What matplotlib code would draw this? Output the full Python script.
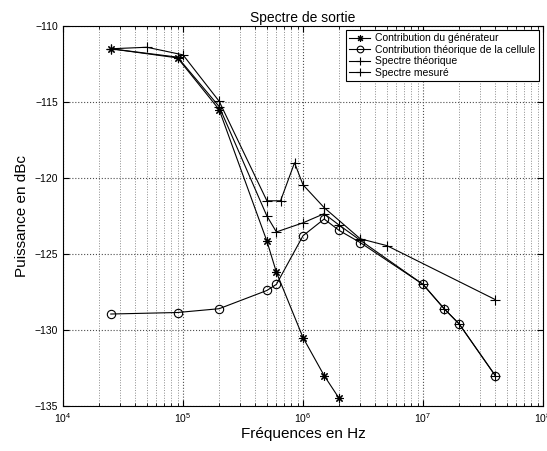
import numpy as np
import matplotlib.pyplot as plt
from matplotlib.ticker import LogLocator, NullFormatter

plt.rcParams['font.family'] = ['Liberation Sans', 'DejaVu Sans']

# Contribution du générateur
f_gen = [2.5e4, 9e4, 2e5, 5e5, 6e5, 1e6, 1.5e6, 2e6]
p_gen = [-111.5, -112.1, -115.5, -124.15, -126.2, -130.5, -133.0, -134.5]

# Contribution théorique de la cellule
f_cel = [2.5e4, 9e4, 2e5, 5e5, 6e5, 1e6, 1.5e6, 2e6, 3e6, 1e7, 1.5e7, 2e7, 4e7]
p_cel = [-128.95, -128.85, -128.6, -127.4, -127.0, -123.8, -122.7, -123.45,
         -124.25, -127.0, -128.6, -129.6, -133.0]

# Spectre théorique
f_th = [2.5e4, 9e4, 2e5, 5e5, 6e5, 1e6, 1.5e6, 2e6, 3e6, 1e7, 1.5e7, 2e7, 4e7]
p_th = [-111.5, -112.05, -115.3, -122.5, -123.55, -122.95, -122.35, -123.1,
        -124.1, -127.0, -128.6, -129.6, -133.0]

# Spectre mesuré
f_mes = [2.5e4, 5e4, 1e5, 2e5, 5e5, 6.5e5, 8.5e5, 1e6, 1.5e6, 3e6, 5e6, 4e7]
p_mes = [-111.5, -111.4, -111.9, -114.95, -121.5, -121.5, -119.0, -120.45,
         -121.95, -124.0, -124.45, -128.0]

fig = plt.figure(figsize=(5.47, 4.51), dpi=100)
ax = fig.add_axes([0.1152, 0.0998, 0.8775, 0.8426])

lw = 0.8
ax.plot(f_gen, p_gen, 'k-', marker=(8, 2, 0), ms=6, mew=0.8, lw=lw,
        label='Contribution du générateur')
ax.plot(f_cel, p_cel, 'k-', marker='o', ms=6, mfc='none', mew=0.8, lw=lw,
        label='Contribution théorique de la cellule')
ax.plot(f_th, p_th, 'k-', marker='+', ms=7, mew=0.8, lw=lw, label='Spectre théorique')
ax.plot(f_mes, p_mes, 'k-', marker='+', ms=7, mew=0.8, lw=lw, label='Spectre mesuré')

ax.set_xscale('log')
ax.set_xlim(1e4, 1e8)
ax.set_ylim(-135, -110)
ax.set_yticks(np.arange(-135, -109, 5))
ax.xaxis.set_major_locator(LogLocator(base=10, numticks=10))
ax.xaxis.set_minor_locator(LogLocator(base=10, subs=np.arange(2, 10), numticks=100))
ax.xaxis.set_minor_formatter(NullFormatter())

ax.grid(True, which='major', linestyle=':', color='0.3', lw=0.8)
ax.grid(True, which='minor', axis='x', linestyle=':', color='0.55', lw=0.7)
ax.tick_params(direction='in', which='both', top=True, right=True, labelsize=7.5)
ax.tick_params(which='major', length=4)
ax.tick_params(which='minor', length=2)
for s in ax.spines.values():
    s.set_linewidth(0.8)

ax.set_title('Spectre de sortie', fontsize=10, pad=3)
ax.set_xlabel('Fréquences en Hz', fontsize=11, labelpad=2)
ax.set_ylabel('Puissance en dBc', fontsize=11, labelpad=4)

leg = ax.legend(loc='upper right', fontsize=7.5, fancybox=False, edgecolor='k',
                framealpha=1, borderaxespad=0.4, handlelength=2.0, handletextpad=0.5,
                labelspacing=0.15, borderpad=0.3, markerscale=0.8)
leg.get_frame().set_linewidth(0.8)

fig.savefig('out.png', dpi=100)
